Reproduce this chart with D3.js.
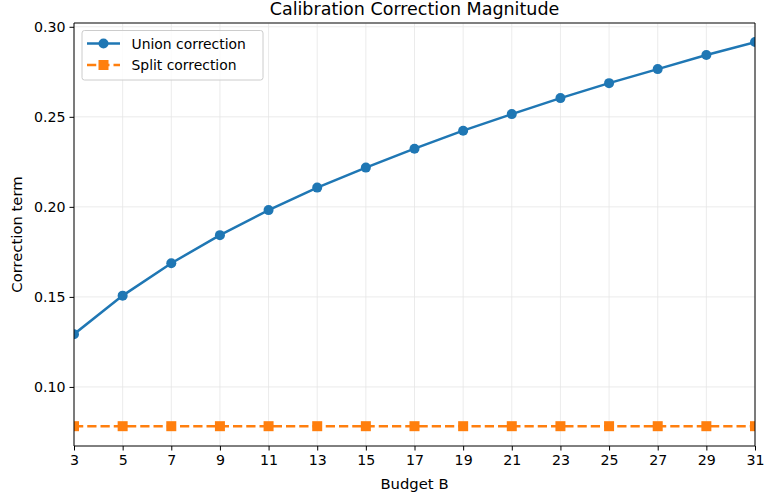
<!DOCTYPE html>
<html>
<head>
<meta charset="utf-8">
<script src="https://cdn.jsdelivr.net/npm/d3@7"></script>
<style>
  body { margin: 0; background: #fff; }
  text { font-family: "DejaVu Sans", sans-serif; fill: #000; }
</style>
</head>
<body>
<div id="chart"></div>
<script>
// budgets on x axis
var budgets = [3, 5, 7, 9, 11, 13, 15, 17, 19, 21, 23, 25, 27, 29, 31];
var unionCorr = [0.1293, 0.1507, 0.1687, 0.1843, 0.1982, 0.2107, 0.2218, 0.2323,
                 0.2423, 0.2515, 0.2604, 0.2687, 0.2765, 0.2843, 0.2915];
var splitCorr = [0.0782, 0.0782, 0.0782, 0.0782, 0.0782, 0.0782, 0.0782, 0.0782,
                 0.0782, 0.0782, 0.0782, 0.0782, 0.0782, 0.0782, 0.0782];
var yTicks = [0.10, 0.15, 0.20, 0.25, 0.30];

var width = 764, height = 497;
var margin = {top: 23, right: 9, bottom: 51, left: 74};
var w = width - margin.left - margin.right,
    h = height - margin.top - margin.bottom;

var svg = d3.select("#chart").append("svg")
    .attr("width", width).attr("height", height);

var g = svg.append("g")
    .attr("transform", "translate(" + margin.left + "," + margin.top + ")");

var x = d3.scaleLinear().domain([3, 31]).range([0, w]);
var y = d3.scaleLinear().domain([0.0672, 0.3021]).range([h, 0]);

// grid
g.append("g").selectAll("line.vg").data(budgets).enter().append("line")
    .attr("x1", d => x(d)).attr("x2", d => x(d))
    .attr("y1", 0).attr("y2", h)
    .style("stroke", "#e6e6e6").style("stroke-width", 0.8);
g.append("g").selectAll("line.hg").data(yTicks).enter().append("line")
    .attr("x1", 0).attr("x2", w)
    .attr("y1", d => y(d)).attr("y2", d => y(d))
    .style("stroke", "#e6e6e6").style("stroke-width", 0.8);

// axes
var xAxis = g.append("g").attr("transform", "translate(0," + h + ")")
    .call(d3.axisBottom(x).tickValues(budgets).tickFormat(d3.format("d")).tickSizeOuter(0).tickSize(4.5).tickPadding(4));
var yAxis = g.append("g")
    .call(d3.axisLeft(y).tickValues(yTicks).tickFormat(d3.format(".2f")).tickSizeOuter(0).tickSize(4.5).tickPadding(4));
[xAxis, yAxis].forEach(function(a){
    a.select(".domain").remove();
    a.selectAll("line").style("stroke", "#000").style("stroke-width", 1);
    a.selectAll("text").style("font-size", "14.2px").style("font-family", "DejaVu Sans, sans-serif");
});

// clip to axes
svg.append("defs").append("clipPath").attr("id", "clip")
    .append("rect").attr("width", w).attr("height", h);

var plot = g.append("g").attr("clip-path", "url(#clip)");

var line = d3.line().x((d, i) => x(budgets[i])).y(d => y(d));

plot.append("path").datum(unionCorr)
    .attr("d", line)
    .style("fill", "none").style("stroke", "#1f77b4").style("stroke-width", 2.5);
plot.selectAll(".ucirc").data(unionCorr).enter().append("circle")
    .attr("cx", (d, i) => x(budgets[i])).attr("cy", d => y(d))
    .attr("r", 5).style("fill", "#1f77b4");

plot.append("path").datum(splitCorr)
    .attr("d", line)
    .style("fill", "none").style("stroke", "#ff7f0e").style("stroke-width", 2.5)
    .style("stroke-dasharray", "9.25,4");
plot.selectAll(".ssq").data(splitCorr).enter().append("rect")
    .attr("x", (d, i) => x(budgets[i]) - 5).attr("y", d => y(d) - 5)
    .attr("width", 10).attr("height", 10).style("fill", "#ff7f0e");

// spines
g.append("line").attr("x1", 0).attr("x2", w).attr("y1", 0).attr("y2", 0)
    .style("stroke", "#555").style("stroke-width", 1.6);
g.append("line").attr("x1", 0).attr("x2", 0).attr("y1", 0).attr("y2", h)
    .style("stroke", "#000").style("stroke-width", 1);
g.append("line").attr("x1", w).attr("x2", w).attr("y1", 0).attr("y2", h)
    .style("stroke", "#000").style("stroke-width", 1);
g.append("line").attr("x1", 0).attr("x2", w).attr("y1", h).attr("y2", h)
    .style("stroke", "#000").style("stroke-width", 1);

// labels
svg.append("text").attr("x", margin.left + w / 2).attr("y", 15)
    .attr("text-anchor", "middle").style("font-size", "17.5px")
    .text("Calibration Correction Magnitude");
svg.append("text").attr("x", margin.left + w / 2).attr("y", 489)
    .attr("text-anchor", "middle").style("font-size", "14.8px")
    .text("Budget B");
svg.append("text")
    .attr("transform", "translate(21.5," + (margin.top + h / 2) + ") rotate(-90)")
    .attr("text-anchor", "middle").style("font-size", "14.8px")
    .text("Correction term");

// legend
var lg = g.append("g").attr("transform", "translate(8,7.5)");
lg.append("rect").attr("width", 181).attr("height", 49.5).attr("rx", 2.5)
    .style("fill", "#fff").style("fill-opacity", 0.8)
    .style("stroke", "#ccc").style("stroke-width", 1);
var items = [
    {name: "Union correction", color: "#1f77b4", dash: null, shape: "circle"},
    {name: "Split correction", color: "#ff7f0e", dash: "9.25,4", shape: "square"}
];
items.forEach(function(it, i){
    var yy = 13 + i * 21.5;
    lg.append("line").attr("x1", 5).attr("x2", 38).attr("y1", yy).attr("y2", yy)
        .style("stroke", it.color).style("stroke-width", 2.5)
        .style("stroke-dasharray", it.dash);
    if (it.shape == "circle") {
        lg.append("circle").attr("cx", 21.5).attr("cy", yy).attr("r", 5).style("fill", it.color);
    } else {
        lg.append("rect").attr("x", 16.5).attr("y", yy - 5).attr("width", 10).attr("height", 10).style("fill", it.color);
    }
    lg.append("text").attr("x", 49.5).attr("y", yy + 5).style("font-size", "13.9px").text(it.name);
});
</script>
</body>
</html>
